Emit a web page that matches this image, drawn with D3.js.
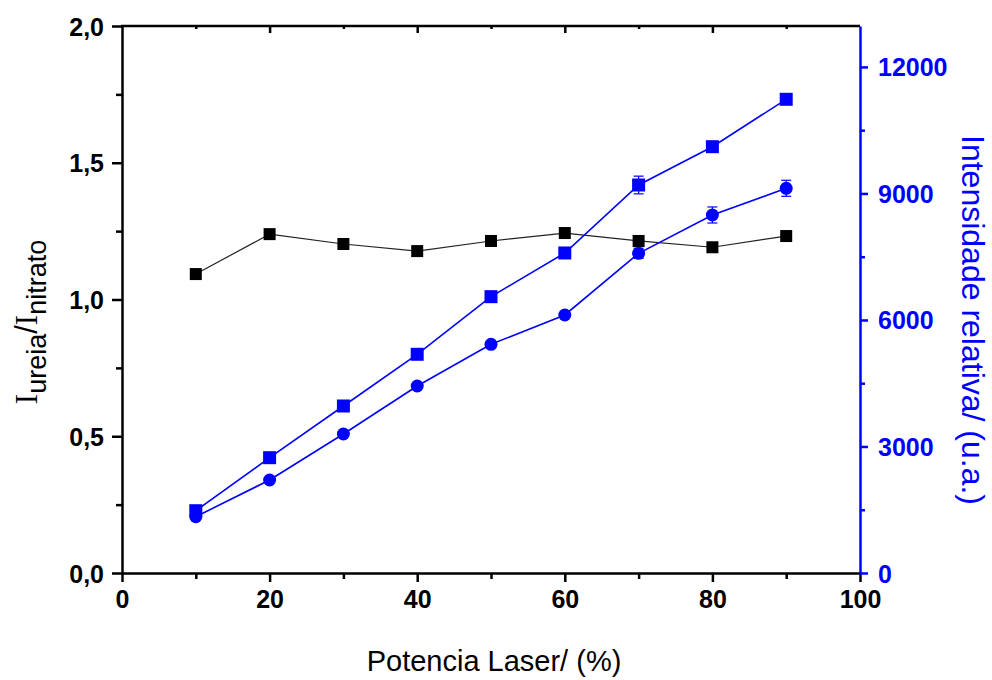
<!DOCTYPE html>
<html>
<head>
<meta charset="utf-8">
<script src="https://cdn.jsdelivr.net/npm/d3@7"></script>
<style>
  body { margin: 0; background: #fff; }
  svg { font-family: "Liberation Sans", Arial, sans-serif; }
</style>
</head>
<body>
<svg width="992" height="680"></svg>
<script>
// potencia laser (%)
var potencia = [10, 20, 30, 40, 50, 60, 70, 80, 90];
// razao I_ureia / I_nitrato (eixo esquerdo)
var razao = [1.093, 1.239, 1.203, 1.177, 1.214, 1.243, 1.214, 1.191, 1.232];
// intensidade relativa (eixo direito) - quadrados
var intQuad = [1477, 2734, 3960, 5186, 6552, 7588, 9200, 10108, 11232];
var errQuad = [40, 60, 60, 60, 110, 70, 210, 70, 90];
// intensidade relativa - circulos
var intCirc = [1335, 2205, 3296, 4434, 5423, 6118, 7580, 8489, 9122];
var errCirc = [40, 40, 50, 60, 60, 70, 120, 190, 190];

var xTicks = [0, 20, 40, 60, 80, 100];
var leftTicks = [0, 0.5, 1.0, 1.5, 2.0];
var rightTicks = [0, 3000, 6000, 9000, 12000];

var svg = d3.select("svg");
var pL = 122, pR = 860, pT = 26, pB = 573;
var blue = "#0000ff";

var x = d3.scaleLinear().domain([0, 100]).range([pL, pR]);
var yL = d3.scaleLinear().domain([0, 2]).range([pB, pT]);
var yR = d3.scaleLinear().domain([0, 12970]).range([pB, pT]);

var comma = function(d) { return d3.format(".1f")(d).replace(".", ","); };

// minor ticks first, then major axes on top
function minor(axis, vals, g, color) {
    g.call(axis.tickValues(vals).tickFormat(""));
    g.select(".domain").remove();
    g.selectAll("line").attr("stroke", color).attr("stroke-width", 2.5);
}

minor(d3.axisBottom(x).tickSize(6), [10, 30, 50, 70, 90],
      svg.append("g").attr("transform", "translate(0," + pB + ")"), "#000");
minor(d3.axisLeft(yL).tickSize(6), [0.25, 0.75, 1.25, 1.75],
      svg.append("g").attr("transform", "translate(" + pL + ",0)"), "#000");
minor(d3.axisRight(yR).tickSize(5), [1500, 4500, 7500, 10500],
      svg.append("g").attr("transform", "translate(" + pR + ",0)"), blue);
minor(d3.axisBottom(x).tickSize(3), [10, 30, 50, 70, 90],
      svg.append("g").attr("transform", "translate(0," + pT + ")"), "#000");
minor(d3.axisBottom(x).tickSize(7), [20, 40, 60, 80],
      svg.append("g").attr("transform", "translate(0," + pT + ")"), "#000");

var gx = svg.append("g").attr("transform", "translate(0," + pB + ")")
    .call(d3.axisBottom(x).tickValues(xTicks).tickSize(9).tickPadding(8).tickSizeOuter(0));
var gl = svg.append("g").attr("transform", "translate(" + pL + ",0)")
    .call(d3.axisLeft(yL).tickValues(leftTicks).tickFormat(comma).tickSize(10).tickPadding(8).tickSizeOuter(0));
var gr = svg.append("g").attr("transform", "translate(" + pR + ",0)")
    .call(d3.axisRight(yR).tickValues(rightTicks).tickFormat(d3.format("d")).tickSize(8).tickPadding(10).tickSizeOuter(0));

[gx, gl, gr].forEach(function(g) {
    g.attr("font-family", null).attr("font-size", 25).attr("font-weight", "bold");
});
[gx, gl].forEach(function(g) {
    g.selectAll("line, .domain").attr("stroke", "#000").attr("stroke-width", 2.5);
    g.selectAll("text").attr("fill", "#000");
});
gr.selectAll("line, .domain").attr("stroke", blue).attr("stroke-width", 2.5);
gr.selectAll("text").attr("fill", blue);
gr.selectAll(".tick text").attr("dy", "0.36em");
gl.selectAll(".tick text").attr("dy", "0.36em");

// top frame line
svg.append("line")
    .attr("x1", pL - 1).attr("x2", pR).attr("y1", pT).attr("y2", pT)
    .attr("stroke", "#000").attr("stroke-width", 2.5);

// black series (left axis)
var lineL = d3.line().x(function(d, i) { return x(potencia[i]); }).y(function(d) { return yL(d); });
svg.append("path").datum(razao).attr("d", lineL)
    .attr("fill", "none").attr("stroke", "#222").attr("stroke-width", 1.2);
svg.selectAll(".sqk").data(razao).enter().append("rect")
    .attr("x", function(d, i) { return x(potencia[i]) - 6; })
    .attr("y", function(d) { return yL(d) - 6; })
    .attr("width", 12).attr("height", 12).attr("fill", "#000");

// blue series (right axis)
var lineR = d3.line().x(function(d, i) { return x(potencia[i]); }).y(function(d) { return yR(d); });

function errorBars(vals, errs) {
    var g = svg.append("g").attr("stroke", blue).attr("stroke-width", 1.2);
    vals.forEach(function(v, i) {
        var cx = x(potencia[i]);
        var y1 = yR(v + errs[i]), y2 = yR(v - errs[i]);
        g.append("line").attr("x1", cx).attr("x2", cx).attr("y1", y1).attr("y2", y2);
        g.append("line").attr("x1", cx - 5).attr("x2", cx + 5).attr("y1", y1).attr("y2", y1);
        g.append("line").attr("x1", cx - 5).attr("x2", cx + 5).attr("y1", y2).attr("y2", y2);
    });
}

svg.append("path").datum(intQuad).attr("d", lineR)
    .attr("fill", "none").attr("stroke", blue).attr("stroke-width", 1.6);
svg.append("path").datum(intCirc).attr("d", lineR)
    .attr("fill", "none").attr("stroke", blue).attr("stroke-width", 1.6);
errorBars(intQuad, errQuad);
errorBars(intCirc, errCirc);
svg.selectAll(".sqb").data(intQuad).enter().append("rect")
    .attr("x", function(d, i) { return x(potencia[i]) - 6.5; })
    .attr("y", function(d) { return yR(d) - 6.5; })
    .attr("width", 13).attr("height", 13).attr("fill", blue);
svg.selectAll(".cib").data(intCirc).enter().append("circle")
    .attr("cx", function(d, i) { return x(potencia[i]); })
    .attr("cy", function(d) { return yR(d); })
    .attr("r", 6.5).attr("fill", blue);

// axis titles
svg.append("text")
    .attr("x", (pL + pR) / 2 + 3).attr("y", 671)
    .attr("text-anchor", "middle").attr("font-size", 29)
    .text("Potencia Laser/ (%)");

var lt = svg.append("text")
    .attr("transform", "translate(37,322) rotate(-90)")
    .attr("text-anchor", "middle").attr("font-size", 31);
lt.append("tspan").attr("font-family", "'Liberation Serif', serif").text("I");
lt.append("tspan").attr("dy", 9).attr("font-size", 27).text("ureia");
lt.append("tspan").attr("dy", -9).text("/");
lt.append("tspan").attr("font-family", "'Liberation Serif', serif").text("I");
lt.append("tspan").attr("dy", 9).attr("font-size", 27).text("nitrato");

svg.append("text")
    .attr("transform", "translate(962,320) rotate(90)")
    .attr("text-anchor", "middle").attr("font-size", 32).attr("fill", blue)
    .text("Intensidade relativa/ (u.a.)");
</script>
</body>
</html>
